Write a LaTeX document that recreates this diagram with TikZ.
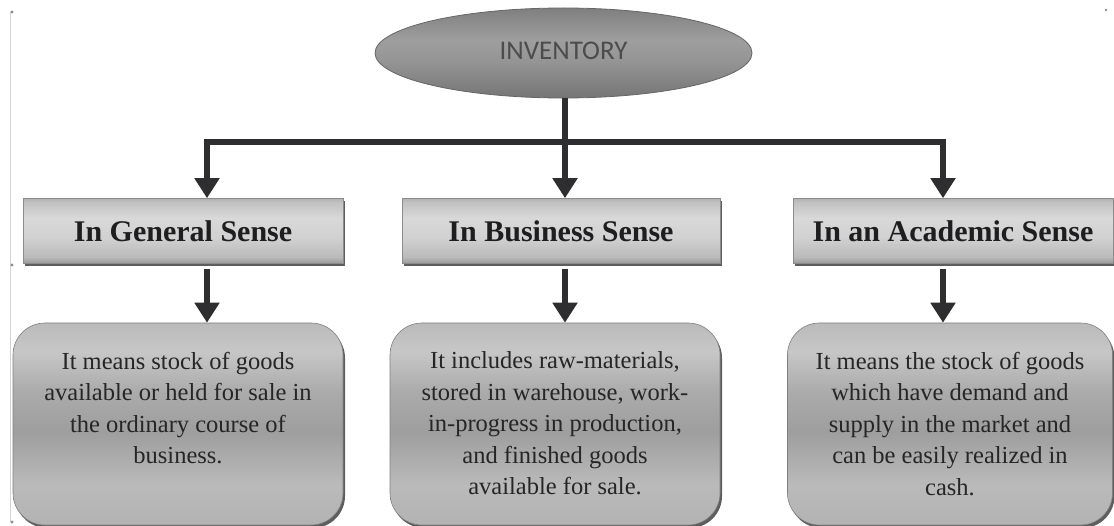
\documentclass[tikz,border=0pt]{standalone}
\usepackage{fontspec}
\setmainfont{Liberation Serif}
\newfontfamily\labelsans{Carlito}
\usetikzlibrary{shapes.geometric,arrows.meta,shadows}

\definecolor{linkgray}{HTML}{2E2E30}
\definecolor{framegray}{HTML}{D4D4D6}
\definecolor{inktext}{HTML}{1E1E20}

% vertical shadings (bottom -> top)
\pgfdeclareverticalshading{hdrshade}{100bp}{%
  color(0bp)=(black!40); color(25bp)=(black!40); color(30bp)=(black!27);
  color(45bp)=(black!18); color(60bp)=(black!15); color(72bp)=(black!24);
  color(75bp)=(black!30); color(100bp)=(black!30)}
\pgfdeclareverticalshading{bodyshade}{100bp}{%
  color(0bp)=(black!30); color(25bp)=(black!30); color(35bp)=(black!27);
  color(48bp)=(black!38); color(58bp)=(black!33); color(68bp)=(black!22);
  color(75bp)=(black!27); color(100bp)=(black!27)}
\pgfdeclareverticalshading{ovalshade}{100bp}{%
  color(0bp)=(black!54); color(25bp)=(black!54); color(45bp)=(black!42);
  color(57bp)=(black!38); color(75bp)=(black!50); color(100bp)=(black!50)}

\tikzset{
  oval/.style={ellipse, draw=black!60, line width=0.8pt, shading=ovalshade,
    minimum width=377pt, minimum height=90pt, inner sep=0pt,
    font=\labelsans\fontsize{27}{30}\selectfont, text=black!70},
  headbox/.style={rectangle, draw=black!45, line width=0.6pt, shading=hdrshade,
    minimum height=65pt, inner sep=0pt,
    drop shadow={shadow xshift=1.5pt, shadow yshift=-2.5pt, fill=black!70, opacity=0.9},
    font=\bfseries\fontsize{30}{34}\selectfont, text=inktext},
  bodybox/.style={rectangle, rounded corners=32pt, draw=black!50, line width=0.6pt,
    shading=bodyshade, minimum height=202pt, inner sep=0pt,
    drop shadow={shadow xshift=2pt, shadow yshift=-3pt, fill=black!70, opacity=0.9}},
  bodytext/.style={align=center, inner sep=0pt, anchor=north,
    font=\fontsize{24.5}{31.5}\selectfont, text=black!85},
  conn/.style={draw=linkgray, line width=6pt},
  arr/.style={conn, -{Triangle[length=20pt,width=24pt]}}
}

\begin{document}
\begin{tikzpicture}[x=1pt,y=-1pt]
  \useasboundingbox (0,0) rectangle (1114,526);

  % faint page frame on the left
  \draw[framegray, line width=0.8pt] (10,12) -- (10,522);
  \fill[black!45] (12,12) circle (1.6) (12,265) circle (1.6) (12,522) circle (1.6)
                  (1106,10) circle (1.4);

  % root
  \node[oval] (inv) at (563.5,53) {\raisebox{5pt}{INVENTORY}};

  % sense headings
  \node[headbox, minimum width=320pt] (h1) at (183,231) {In General Sense};
  \node[headbox, minimum width=318pt] (h2) at (561,231) {In Business Sense};
  \node[headbox, minimum width=320pt] (h3) at (953,231) {In an Academic Sense};

  % explanation boxes
  \node[bodybox, minimum width=330pt] (d1) at (178,424) {};
  \node[bodybox, minimum width=330pt] (d2) at (555,424) {};
  \node[bodybox, minimum width=325pt] (d3) at (950,424) {};

  \node[bodytext] (t1) at ([yshift=-29pt]d1.north)
    {It means stock of goods\\available or held for sale in\\the ordinary course of\\business.};
  \node[bodytext] (t2) at ([yshift=-29pt]d2.north)
    {It includes raw-materials,\\stored in warehouse, work-\\in-progress in production,\\and finished goods\\available for sale.};
  \node[bodytext] (t3) at ([yshift=-29pt]d3.north)
    {It means the stock of goods\\which have demand and\\supply in the market and\\can be easily realized in\\cash.};

  % branching connectors
  \coordinate (jl) at (207,142);
  \coordinate (jm) at (565,142);
  \coordinate (jr) at (943,142);

  \draw[conn] (inv.south -| jm) -- (jm);
  \draw[conn, line cap=rect] (jl) -- (jr);
  \draw[arr] (jl) -- (jl |- h1.north);
  \draw[arr] (jm) -- (jm |- h2.north);
  \draw[arr] (jr) -- (jr |- h3.north);

  \draw[arr] ([yshift=-5pt]h1.south -| jl) -- (d1.north -| jl);
  \draw[arr] ([yshift=-5pt]h2.south -| jm) -- (d2.north -| jm);
  \draw[arr] ([yshift=-5pt]h3.south -| jr) -- (d3.north -| jr);
\end{tikzpicture}
\end{document}
